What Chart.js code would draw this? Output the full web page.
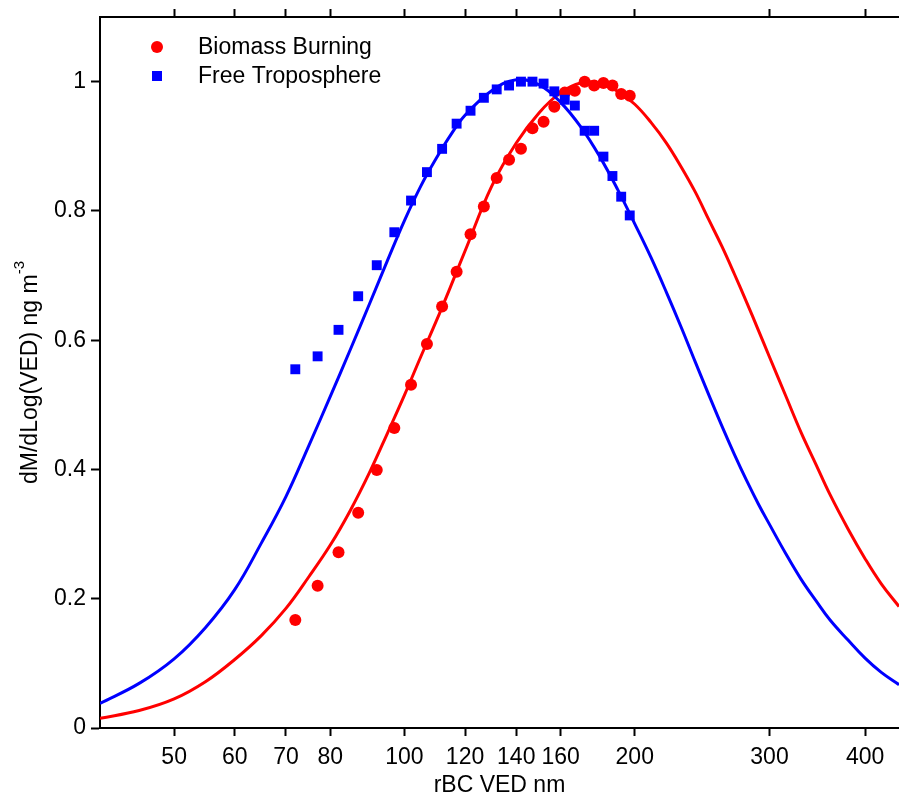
<!DOCTYPE html>
<html>
<head>
<meta charset="utf-8">
<script src="https://cdn.jsdelivr.net/npm/chart.js@4.4.1/dist/chart.umd.min.js"></script>
<style>
  html, body { margin: 0; padding: 0; background: #fff; }
</style>
</head>
<body>
<canvas id="sizeChart" width="899" height="797"></canvas>
<script>
// bin centres (nm) shared by both measured distributions
const binDiam = [72, 77, 82, 87, 92, 97, 102, 107, 112, 117, 122, 127, 132, 137, 142, 147, 152, 157, 162, 167, 172, 177, 182, 187, 192, 197];
const bbVals = [0.167, 0.220, 0.272, 0.333, 0.399, 0.464, 0.531, 0.594, 0.652, 0.706, 0.764, 0.807, 0.851, 0.879, 0.896, 0.928, 0.938, 0.961, 0.983, 0.986, 1.0, 0.994, 0.998, 0.994, 0.981, 0.978];
const ftVals = [0.555, 0.575, 0.616, 0.668, 0.716, 0.767, 0.816, 0.860, 0.896, 0.935, 0.955, 0.975, 0.988, 0.994, 1.0, 1.0, 0.997, 0.985, 0.972, 0.963, 0.924, 0.924, 0.884, 0.854, 0.822, 0.793];

// lognormal fit curves
const fitDiam = [40, 45, 50, 55, 60, 65, 70, 75, 80, 85, 90, 95, 100, 105, 110, 115, 120, 130, 140, 150, 160, 170, 180, 190, 200, 210, 220, 230, 240, 250, 260, 270, 280, 290, 300, 315, 330, 345, 360, 380, 400, 420, 443];
const bbFit = [0.015, 0.027, 0.045, 0.072, 0.106, 0.143, 0.185, 0.234, 0.283, 0.337, 0.395, 0.456, 0.515, 0.574, 0.629, 0.684, 0.738, 0.838, 0.905, 0.952, 0.983, 0.998, 0.998, 0.985, 0.965, 0.937, 0.905, 0.868, 0.829, 0.786, 0.745, 0.702, 0.659, 0.616, 0.574, 0.514, 0.457, 0.408, 0.361, 0.308, 0.262, 0.223, 0.188];
const ftFit = [0.038, 0.069, 0.107, 0.156, 0.214, 0.286, 0.358, 0.437, 0.513, 0.586, 0.656, 0.723, 0.785, 0.838, 0.881, 0.918, 0.948, 0.986, 1.003, 0.995, 0.968, 0.930, 0.884, 0.833, 0.780, 0.728, 0.674, 0.620, 0.566, 0.515, 0.467, 0.423, 0.383, 0.347, 0.315, 0.270, 0.230, 0.197, 0.167, 0.136, 0.108, 0.086, 0.067];

const xTickVals = [50, 60, 70, 80, 100, 120, 140, 160, 200, 300, 400];
const yTickVals = [0, 0.2, 0.4, 0.6, 0.8, 1];

const RED = '#ff0000';
const BLUE = '#0000ff';
const FONT = '"Liberation Sans", Arial, sans-serif';

Chart.defaults.font.family = FONT;
Chart.defaults.font.size = 23;
Chart.defaults.color = '#000';

function pts(xs, ys) {
    return xs.map((x, i) => ({ x: x, y: ys[i] }));
}

const axisGrid = {
    display: true,
    drawOnChartArea: false,
    drawTicks: true,
    tickLength: 8,
    tickWidth: 2,
    color: '#000'
};
const axisBorder = { display: true, color: '#000', width: 2 };

// fixed box sizes so the plot area lands where the original one is
function fixBox(size, isHoriz) {
    return s => {
        if (isHoriz) s.height = size; else s.width = size;
        s.paddingLeft = 0;
        s.paddingRight = 0;
        s.paddingTop = 0;
        s.paddingBottom = 0;
    };
}

// legend drawn inside the plot, top left
const cornerLegend = {
    id: 'cornerLegend',
    afterDraw(chart) {
        const c = chart.ctx;
        const items = [
            { text: 'Biomass Burning', color: RED, style: 'circle', y: 47 },
            { text: 'Free Troposphere', color: BLUE, style: 'rect', y: 76 }
        ];
        c.save();
        c.font = '23px ' + FONT;
        c.textBaseline = 'middle';
        items.forEach(it => {
            c.fillStyle = it.color;
            if (it.style === 'circle') {
                c.beginPath();
                c.arc(157, it.y, 6, 0, Math.PI * 2);
                c.fill();
            } else {
                c.fillRect(152, it.y - 5, 10, 10);
            }
            c.fillStyle = '#000';
            c.fillText(it.text, 198, it.y + 1);
        });
        c.restore();
    }
};

// y title with superscript
const yTitle = {
    id: 'yTitle',
    afterDraw(chart) {
        const c = chart.ctx;
        const area = chart.chartArea;
        const main = 'dM/dLog(VED) ng m';
        const sup = '-3';
        c.save();
        c.font = '23px ' + FONT;
        const w1 = c.measureText(main).width;
        c.font = '15px ' + FONT;
        const w2 = c.measureText(sup).width;
        const cy = (area.top + area.bottom) / 2;
        c.translate(37, cy);
        c.rotate(-Math.PI / 2);
        c.fillStyle = '#000';
        c.textBaseline = 'alphabetic';
        c.font = '23px ' + FONT;
        c.fillText(main, -(w1 + w2) / 2, 0);
        c.font = '15px ' + FONT;
        c.fillText(sup, -(w1 + w2) / 2 + w1, -13);
        c.restore();
    }
};

const ctx = document.getElementById('sizeChart').getContext('2d');
const sizeChart = new Chart(ctx, {
    type: 'scatter',
    data: {
        datasets: [{
            label: 'Free Troposphere',
            data: pts(binDiam, ftVals),
            pointStyle: 'rect',
            pointRadius: 7,
            backgroundColor: BLUE,
            borderWidth: 0,
            order: 0
        }, {
            label: 'Biomass Burning',
            data: pts(binDiam, bbVals),
            pointStyle: 'circle',
            pointRadius: 6,
            backgroundColor: RED,
            borderWidth: 0,
            order: 1
        }, {
            label: 'FT fit',
            type: 'line',
            data: pts(fitDiam, ftFit),
            borderColor: BLUE,
            borderWidth: 3,
            pointRadius: 0,
            tension: 0.4,
            fill: false,
            order: 2
        }, {
            label: 'BB fit',
            type: 'line',
            data: pts(fitDiam, bbFit),
            borderColor: RED,
            borderWidth: 3,
            pointRadius: 0,
            tension: 0.4,
            fill: false,
            order: 3
        }]
    },
    options: {
        responsive: false,
        animation: false,
        layout: { padding: 0, autoPadding: false },
        plugins: {
            legend: { display: false },
            tooltip: { enabled: false }
        },
        scales: {
            x: {
                type: 'logarithmic',
                position: 'bottom',
                min: 40,
                max: 443,
                afterBuildTicks: s => { s.ticks = xTickVals.map(v => ({ value: v })); },
                afterFit: fixBox(69, true),
                ticks: {
                    callback: v => String(v),
                    autoSkip: false,
                    maxRotation: 0,
                    padding: 8
                },
                grid: axisGrid,
                border: axisBorder,
                title: {
                    display: true,
                    text: 'rBC VED nm',
                    font: { size: 23, lineHeight: 1.0 },
                    padding: 0
                }
            },
            x2: {
                type: 'logarithmic',
                position: 'top',
                min: 40,
                max: 443,
                afterBuildTicks: s => { s.ticks = xTickVals.map(v => ({ value: v })); },
                afterFit: fixBox(17, true),
                ticks: { display: false },
                grid: axisGrid,
                border: axisBorder
            },
            y: {
                min: 0,
                max: 1.1,
                afterBuildTicks: s => { s.ticks = yTickVals.map(v => ({ value: v })); },
                afterFit: fixBox(100, false),
                ticks: {
                    callback: v => String(v),
                    padding: 5
                },
                grid: Object.assign({}, axisGrid, { tickLength: 9 }),
                border: axisBorder
            }
        }
    },
    plugins: [cornerLegend, yTitle]
});
</script>
</body>
</html>
